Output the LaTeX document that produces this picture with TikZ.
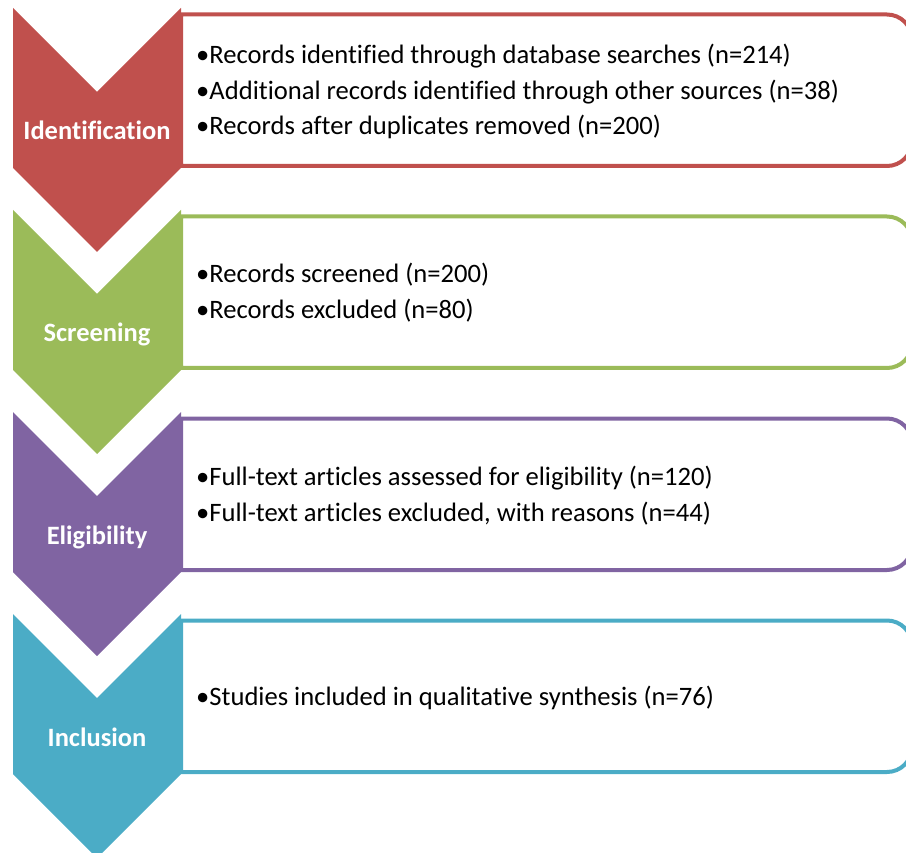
\documentclass[tikz,border=0pt]{standalone}
\usepackage{fontspec}
\setmainfont{Carlito}[Ligatures=NoCommon]
\definecolor{cred}{HTML}{C0504D}
\definecolor{cgreen}{HTML}{9BBB59}
\definecolor{cpurple}{HTML}{8064A2}
\definecolor{cteal}{HTML}{4BACC6}
\tikzset{
  chev/.style={fill=#1, draw=none},
  infobox/.style={draw=#1, line width=4pt, fill=white},
  lbl/.style={text=white, font=\fontsize{26.5}{30}\selectfont\bfseries, anchor=base, inner sep=0pt},
  body/.style={anchor=base west, inner sep=0pt, font=\fontsize{26.6}{30}\selectfont}
}
\newcommand{\stage}[4]{%
  % #1 top offset, #2 colour, #3 name, #4 label
  \begin{scope}[yshift=-#1pt]
    \draw[infobox=#2] (181,-14.5) -- (887,-14.5) arc[start angle=90,end angle=0,radius=25] -- (912,-141) arc[start angle=0,end angle=-90,radius=25] -- (181,-166) -- cycle;
    \fill[chev=#2] (13,-8) -- (97,-92) -- (181,-8) -- (181,-168) -- (97,-252) -- (13,-168) -- cycle;
    \node[lbl] (#3) at (97,-140) {#4};
  \end{scope}
}
\begin{document}
\begin{tikzpicture}[x=1pt,y=1pt]
\useasboundingbox (0,0) rectangle (906,-853);
\clip (0,0) rectangle (906,-853);
\stage{0}{cred}{a}{Identification}
\stage{202}{cgreen}{b}{Screening}
\stage{404}{cpurple}{c}{Eligibility}
\stage{606}{cteal}{d}{Inclusion}
\node[body] (a1) at (196,-64) {•Records identified through database searches (n=214)};
\node[body] (a2) at (196,-99.5) {•Additional records identified through other sources (n=38)};
\node[body] (a3) at (196,-135) {•Records after duplicates removed (n=200)};
\node[body] (b1) at (196,-283) {•Records screened (n=200)};
\node[body] (b2) at (196,-319) {•Records excluded (n=80)};
\node[body] (c1) at (196,-485.5) {•Full-text articles assessed for eligibility (n=120)};
\node[body] (c2) at (196,-521) {•Full-text articles excluded, with reasons (n=44)};
\node[body] (d1) at (196,-705) {•Studies included in qualitative synthesis (n=76)};
\end{tikzpicture}
\end{document}
